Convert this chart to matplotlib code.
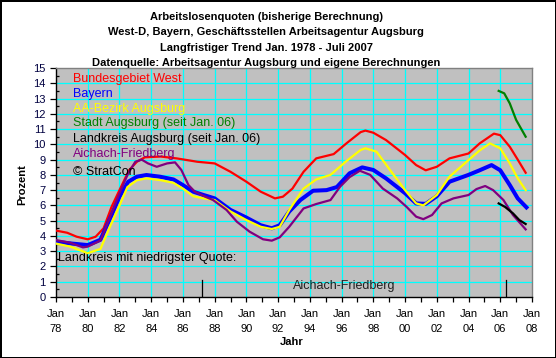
import matplotlib
matplotlib.use("Agg")
import matplotlib.pyplot as plt
from matplotlib.ticker import MultipleLocator

plt.rcParams['font.family'] = ['Liberation Sans', 'DejaVu Sans']

# --- DATA ---
west_years = [1978.0, 1978.7, 1979.3, 1980.0, 1980.5, 1981.0, 1981.5, 1982.0, 1982.6, 1983.1,
              1983.6, 1984.6, 1985.6, 1986.9, 1988.0, 1989.0, 1990.0, 1990.9, 1991.8, 1992.3,
              1992.9, 1993.6, 1994.4, 1995.5, 1996.3, 1997.2, 1997.5, 1998.0, 1998.8, 2000.0,
              2000.7, 2001.3, 2002.0, 2002.8, 2004.0, 2004.7, 2005.6, 2006.0, 2006.6, 2007.1, 2007.6]
west_vals = [4.35, 4.21, 3.95, 3.78, 3.95, 4.5, 5.9, 7.0, 8.3, 8.86,
             9.15, 9.2, 9.08, 8.86, 8.75, 8.2, 7.55, 6.9, 6.46, 6.57,
             7.1, 8.2, 9.08, 9.36, 10.06, 10.8, 10.9, 10.76, 10.28, 9.3,
             8.64, 8.3, 8.53, 9.08, 9.4, 10.06, 10.7, 10.6, 9.84, 9.0, 8.14]

bayern_years = [1978.0, 1979.0, 1980.0, 1980.8, 1981.5, 1982.0, 1982.55, 1983.1, 1983.7, 1984.55,
                1985.4, 1986.0, 1986.65, 1987.3, 1988.0, 1989.0, 1990.0, 1990.9, 1991.6, 1992.1,
                1992.7, 1993.4, 1994.2, 1995.05, 1995.7, 1996.5, 1997.3, 1998.0, 1998.8, 2000.0,
                2000.7, 2001.3, 2002.0, 2002.8, 2004.0, 2004.7, 2005.45, 2006.0, 2006.6, 2007.1, 2007.65]
bayern_vals = [3.62, 3.5, 3.4, 3.75, 5.37, 6.57, 7.55, 7.88, 7.99, 7.88,
               7.7, 7.33, 6.9, 6.68, 6.46, 5.7, 5.2, 4.7, 4.5, 4.7,
               5.6, 6.35, 6.96, 7.0, 7.2, 8.1, 8.49, 8.32, 7.77, 6.8,
               6.13, 6.1, 6.6, 7.55, 8.0, 8.3, 8.64, 8.3, 7.33, 6.46, 5.87]

aa_years = [1978.0, 1978.9, 1980.0, 1980.8, 1981.4, 1981.9, 1982.5, 1983.1, 1983.7, 1984.55,
            1985.4, 1986.0, 1986.65, 1987.3, 1988.0, 1989.0, 1990.0, 1990.9, 1991.6, 1992.1,
            1992.7, 1993.6, 1994.4, 1995.3, 1996.3, 1997.2, 1997.5, 1998.2, 1999.05, 2000.0,
            2000.7, 2001.15, 2002.0, 2002.8, 2004.0, 2004.7, 2005.35, 2006.0, 2006.6, 2007.1, 2007.6]
aa_vals = [3.5, 3.3, 2.87, 3.15, 4.6, 5.75, 7.2, 7.65, 7.77, 7.66,
           7.48, 7.1, 6.6, 6.46, 6.35, 5.6, 5.04, 4.6, 4.45, 4.6,
           5.7, 7.1, 7.7, 8.0, 8.9, 9.63, 9.74, 9.52, 8.32, 7.0,
           6.13, 6.0, 6.68, 7.88, 8.97, 9.6, 10.06, 9.74, 8.75, 7.77, 7.0]

aic_years = [1978.0, 1978.9, 1979.7, 1980.0, 1980.8, 1981.5, 1982.0, 1982.55, 1983.0, 1983.4,
             1983.8, 1984.35, 1985.0, 1985.5, 1985.9, 1986.35, 1986.75, 1987.4, 1987.9, 1988.75,
             1989.4, 1990.2, 1991.05, 1991.6, 1992.1, 1992.7, 1993.6, 1994.4, 1995.3, 1995.9,
             1996.5, 1997.15, 1997.8, 1998.6, 1999.5, 2000.1, 2000.7, 2001.15, 2001.7, 2002.3,
             2003.05, 2004.0, 2004.5, 2005.05, 2005.55, 2006.2, 2006.8, 2007.6]
aic_vals = [3.73, 3.55, 3.25, 3.3, 3.7, 5.48, 6.8, 8.1, 8.86, 9.0,
            8.75, 8.53, 8.75, 8.82, 8.32, 7.33, 6.9, 6.57, 6.35, 5.7,
            4.93, 4.28, 3.78, 3.69, 3.91, 4.6, 5.8, 6.09, 6.35, 7.22,
            7.85, 8.27, 8.0, 7.1, 6.46, 5.9, 5.26, 5.1, 5.37, 6.13,
            6.46, 6.68, 7.07, 7.27, 7.0, 6.35, 5.37, 4.43]

stadt_years = [2005.9, 2006.25, 2006.6, 2007.0, 2007.6]
stadt_vals = [13.5, 13.34, 12.68, 11.6, 10.5]

lk_years = [2005.9, 2006.3, 2006.8, 2007.2, 2007.6]
lk_vals = [6.13, 5.9, 5.48, 5.04, 4.78]

# markers for "Landkreis mit niedrigster Quote"
marker_years = [1987.22, 2006.37]
marker_height = 1.1

tick_years = list(range(1978, 2009, 2))
tick_labels = [f"Jan\n{y % 100:02d}" for y in tick_years]

legend_labels = ["Bundesgebiet West", "Bayern", "AA-Bezirk Augsburg",
                 "Stadt Augsburg (seit Jan. 06)", "Landkreis Augsburg (seit Jan. 06)",
                 "Aichach-Friedberg", "\u00a9 StratCon"]
legend_colors = ["#FF0000", "#0000FF", "#FFFF00", "#008000", "#000000", "#800080", "#000000"]
legend_y = [14.28, 13.29, 12.31, 11.39, 10.35, 9.36, 8.19]

title_lines = ["Arbeitslosenquoten (bisherige Berechnung)",
               "West-D, Bayern, Gesch\u00e4ftsstellen Arbeitsagentur Augsburg",
               "Langfristiger Trend Jan. 1978 - Juli 2007",
               "Datenquelle: Arbeitsagentur Augsburg und eigene Berechnungen"]

# --- FIGURE ---
W, H = 556, 358
fig = plt.figure(figsize=(W / 100, H / 100), dpi=100)
fig.patch.set_facecolor("white")
fig.patch.set_edgecolor("black")
fig.patch.set_linewidth(2)

ax = fig.add_axes([56 / W, 1 - 297 / H, (532 - 56) / W, (297 - 68) / H])
ax.set_facecolor("#C0C0C0")
ax.set_xlim(1978, 2008)
ax.set_ylim(0, 15)

for y in range(1, 15):
    ax.axhline(y, color="#00FFFF", lw=0.9, zorder=1)
for x in range(1980, 2008, 2):
    ax.axvline(x, color="#00FFFF", lw=0.9, zorder=1)

ax.plot(west_years, west_vals, color="#FF0000", lw=1.6, zorder=3)
ax.plot(bayern_years, bayern_vals, color="#0000FF", lw=2.9, zorder=3)
ax.plot(aa_years, aa_vals, color="#FFFF00", lw=1.6, zorder=4)
ax.plot(aic_years, aic_vals, color="#800080", lw=1.6, zorder=4)
ax.plot(stadt_years, stadt_vals, color="#008000", lw=1.6, zorder=5)
ax.plot(lk_years, lk_vals, color="#000000", lw=1.6, zorder=5)

for mx in marker_years:
    ax.plot([mx, mx], [0, marker_height], color="black", lw=0.9, zorder=5)

for lab, col, yy in zip(legend_labels, legend_colors, legend_y):
    ax.text(1979.07, yy, lab, color=col, fontsize=9, va="center", ha="left", zorder=6)

ax.text(1978.15, 2.55, "Landkreis mit niedrigster Quote:", fontsize=9, va="center", ha="left")
ax.text(1992.93, 0.74, "Aichach-Friedberg", fontsize=9, va="center", ha="left", color="#202020")

# axes / ticks
ax.set_xticks(tick_years)
ax.set_xticklabels(tick_labels, fontsize=8, linespacing=1.6)
ax.xaxis.set_minor_locator(MultipleLocator(1))
ax.set_yticks(range(0, 16))
ax.yaxis.set_minor_locator(MultipleLocator(0.5))
ax.tick_params(axis="y", which="major", direction="out", length=4, width=0.9,
               color="black", labelsize=8, labelcolor="#000040")
ax.tick_params(axis="y", which="minor", direction="in", length=2.5, width=0.9, color="black")
ax.tick_params(axis="x", which="both", direction="out", length=3.5, width=0.9,
               color="black", pad=5)
for s in ["top", "right"]:
    ax.spines[s].set_color("#808080")
    ax.spines[s].set_linewidth(1)
for s in ["left", "bottom"]:
    ax.spines[s].set_color("black")
    ax.spines[s].set_linewidth(1)

fig.text(22 / W, 1 - 185 / H, "Prozent", rotation=90, fontsize=8, fontweight="bold",
         ha="center", va="center")
fig.text(292 / W, 1 - 342 / H, "Jahr", fontsize=8, fontweight="bold", ha="center", va="center")

for i, line in enumerate(title_lines):
    fig.text(266 / W, 1 - (17 + 15.3 * i) / H, line, fontsize=8, fontweight="bold",
             ha="center", va="center")

fig.savefig("out.png", dpi=100)
